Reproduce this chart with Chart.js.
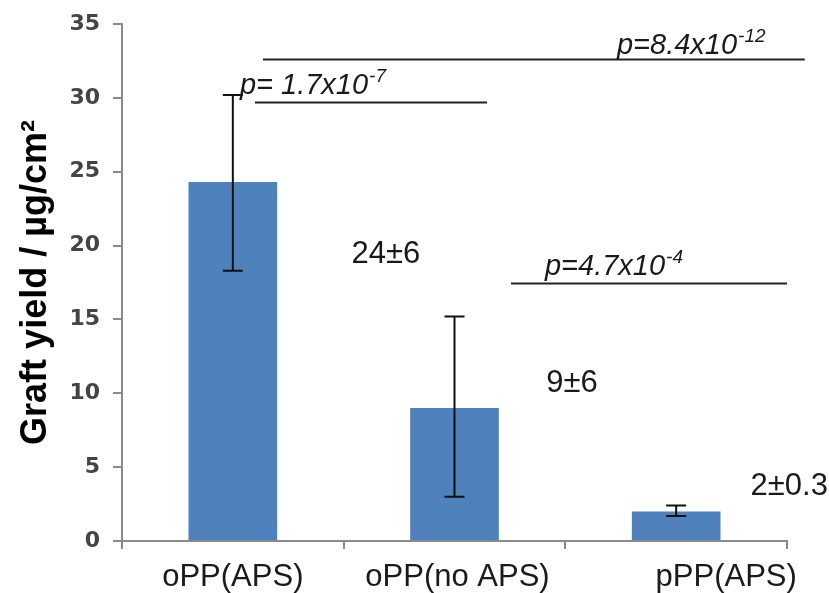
<!DOCTYPE html>
<html>
<head>
  <meta charset="utf-8">
  <title>Graft yield</title>
  <script src="https://cdn.jsdelivr.net/npm/chart.js"></script>
  <style>
    html, body { margin: 0; padding: 0; background: #fff; }
    #wrap { width: 829px; height: 593px; }
  </style>
</head>
<body>
  <div id="wrap"><canvas id="graft"></canvas></div>

  <script>
    const categories = ['oPP(APS)', 'oPP(no APS)', 'pPP(APS)'];
    const yieldMean = [24.3, 9.0, 2.0];
    const errLow = [18.3, 3.0, 1.7];
    const errHigh = [30.2, 15.2, 2.4];
    const valueLabels = ['24\u00b16', '9\u00b16', '2\u00b10.3'];
    const pLabels = ['p=8.4x10', 'p= 1.7x10', 'p=4.7x10'];
    const pExponents = ['-12', '-7', '-4'];
    const yTicks = [0, 5, 10, 15, 20, 25, 30, 35];

    const AXIS_GREY = '#8a8a8a';

    // error bars, value labels, p-value brackets and category labels
    const extras = {
      id: 'extras',
      afterDatasetsDraw(chart, args, opts) {
        const { ctx, scales: { x, y } } = chart;
        ctx.save();

        // error bars
        ctx.strokeStyle = '#111';
        ctx.lineWidth = 2;
        yieldMean.forEach((m, i) => {
          const px = x.getPixelForValue(i);
          const top = y.getPixelForValue(errHigh[i]);
          const bot = y.getPixelForValue(errLow[i]);
          ctx.beginPath();
          ctx.moveTo(px, top); ctx.lineTo(px, bot);
          ctx.moveTo(px - 10, top); ctx.lineTo(px + 10, top);
          ctx.moveTo(px - 10, bot); ctx.lineTo(px + 10, bot);
          ctx.stroke();
        });

        // value labels next to bars
        ctx.fillStyle = '#1a1a1a';
        ctx.font = '31px Arial, "Liberation Sans", sans-serif';
        ctx.textAlign = 'center';
        ctx.textBaseline = 'alphabetic';
        valueLabels.forEach((t, i) => {
          const pos = opts.valuePos[i];
          ctx.fillText(t, x.getPixelForValue(pos[0]), y.getPixelForValue(pos[1]));
        });

        // significance lines
        ctx.strokeStyle = '#222';
        ctx.lineWidth = 2;
        ctx.textAlign = 'left';
        opts.brackets.forEach((b, i) => {
          const ly = Math.round(y.getPixelForValue(b.level)) + 0.5;
          ctx.beginPath();
          ctx.moveTo(x.getPixelForValue(b.from), ly);
          ctx.lineTo(x.getPixelForValue(b.to), ly);
          ctx.stroke();

          const tx = x.getPixelForValue(b.textAt[0]);
          const ty = y.getPixelForValue(b.textAt[1]);
          ctx.font = 'italic 29px Arial, "Liberation Sans", sans-serif';
          ctx.fillText(pLabels[i], tx, ty);
          const w = ctx.measureText(pLabels[i]).width;
          ctx.font = 'italic 19px Arial, "Liberation Sans", sans-serif';
          ctx.fillText(pExponents[i], tx + w + 1, ty - 12);
        });

        // category labels
        ctx.font = '31px Arial, "Liberation Sans", sans-serif';
        ctx.textAlign = 'center';
        ctx.textBaseline = 'middle';
        categories.forEach((c, i) => {
          ctx.fillText(c, x.getPixelForValue(i) + opts.labelShift[i], opts.labelY);
        });

        ctx.restore();
      }
    };

    const ctx = document.getElementById('graft').getContext('2d');
    new Chart(ctx, {
      type: 'bar',
      data: {
        labels: categories,
        datasets: [{
          data: yieldMean,
          backgroundColor: '#4f81bd',
          borderWidth: 0,
          barPercentage: 0.4,
          categoryPercentage: 1.0
        }]
      },
      options: {
        responsive: true,
        maintainAspectRatio: false,
        animation: false,
        layout: { padding: { top: 14, right: 42, left: 0, bottom: 0 } },
        plugins: {
          legend: { display: false },
          tooltip: { enabled: false },
          extras: {
            labelY: 577,
            labelShift: [0, 3, 50],
            valuePos: [[0.69, 18.8], [1.53, 10.1], [2.51, 3.1]],
            brackets: [
              { from: 0.136, to: 2.58, level: 32.64, textAt: [1.733, 32.97] },
              { from: 0.10, to: 1.147, level: 29.74, textAt: [0.032, 30.25] },
              { from: 1.255, to: 2.5, level: 17.46, textAt: [1.408, 18.0] }
            ]
          }
        },
        scales: {
          x: {
            offset: true,
            grid: {
              offset: true,
              drawOnChartArea: false,
              color: AXIS_GREY,
              lineWidth: 2,
              tickLength: 8
            },
            border: { color: AXIS_GREY, width: 2 },
            ticks: { display: false },
            afterFit(scale) { scale.height = 52; }
          },
          y: {
            min: 0,
            max: 35,
            afterBuildTicks(scale) {
              scale.ticks = yTicks.map(v => ({ value: v }));
            },
            grid: {
              drawOnChartArea: false,
              color: AXIS_GREY,
              lineWidth: 2,
              tickLength: 9
            },
            border: { color: AXIS_GREY, width: 2 },
            ticks: {
              padding: 13,
              color: '#444',
              font: { family: '"DejaVu Sans", Verdana, sans-serif', size: 22, weight: 'bold', lineHeight: 1 }
            },
            title: {
              display: true,
              text: 'Graft yield / \u00b5g/cm\u00b2',
              color: '#000',
              font: { family: 'Arial, "Liberation Sans", sans-serif', size: 36, weight: 'bold' },
              padding: { top: 14, bottom: 0 }
            },
            afterFit(scale) { scale.width = 122; }
          }
        }
      },
      plugins: [extras]
    });
  </script>
</body>
</html>
